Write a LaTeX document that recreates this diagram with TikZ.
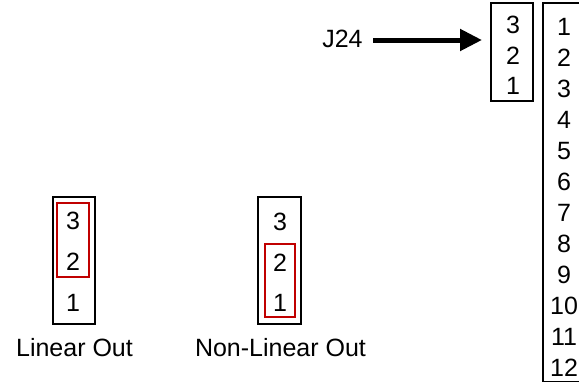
\documentclass[tikz,border=0pt]{standalone}
\usepackage{fontspec}
\setmainfont{Liberation Sans}
\usetikzlibrary{arrows.meta}
\definecolor{jred}{HTML}{C00000}
\begin{document}
\begin{tikzpicture}[x=1pt,y=-1pt,
  lbl/.style={inner sep=0pt,font=\fontsize{25}{30}\selectfont},
  pinbox/.style={draw=black,line width=1.4pt,inner sep=0pt},
  jumper/.style={draw=jred,line width=2.8pt,inner sep=0pt},
  bigarrow/.style={line width=5pt,-{Triangle[length=22pt,width=21pt]}}]
\useasboundingbox (0,0) rectangle (579,383);
\clip (0,0) rectangle (579,383);
\fill[white] (0,0) rectangle (579,383);
% J24 header
\node[pinbox,minimum width=42pt,minimum height=98pt] (jbox) at (512,52) {};
\foreach \n/\y in {3/25,2/56,1/86}{\node[lbl] (j\n) at (513,\y) {\n};}
\node[lbl] (jlabel) at (342.5,38.5) {J24};
\coordinate (astart) at (373,40);
\coordinate (aend) at (482,40);
\draw[bigarrow] (astart) -- (aend);
% big connector
\coordinate (bigtr) at (620,3);
\coordinate (bigtl) at (543,3);
\coordinate (bigbl) at (543,381.5);
\coordinate (bigbr) at (620,381.5);
\draw[line width=1.4pt] (bigtr) -- (bigtl) -- (bigbl) -- (bigbr);
\foreach \n in {1,...,12}{\node[lbl] (p\n) at (564,{27+31*(\n-1)}) {\n};}
% Linear Out
\node[pinbox,minimum width=42pt,minimum height=127pt] (linbox) at (74,260.5) {};
\node[lbl] (l3) at (73,221) {3};
\node[lbl] (l2) at (73,262) {2};
\node[lbl] (l1) at (73,303) {1};
\node[jumper,minimum width=32pt,minimum height=74pt] (linjmp) at (73,240) {};
\node[lbl] (lintext) at (74.5,347.5) {Linear Out};
% Non-Linear Out
\node[pinbox,minimum width=43pt,minimum height=127pt] (nlbox) at (279.5,260.5) {};
\node[lbl] (n3) at (280,222) {3};
\node[lbl] (n2) at (280,263) {2};
\node[lbl] (n1) at (280,303) {1};
\node[jumper,minimum width=30pt,minimum height=73pt] (nljmp) at (280,280.5) {};
\node[lbl] (nltext) at (280.5,347.5) {Non-Linear Out};
\end{tikzpicture}
\end{document}
